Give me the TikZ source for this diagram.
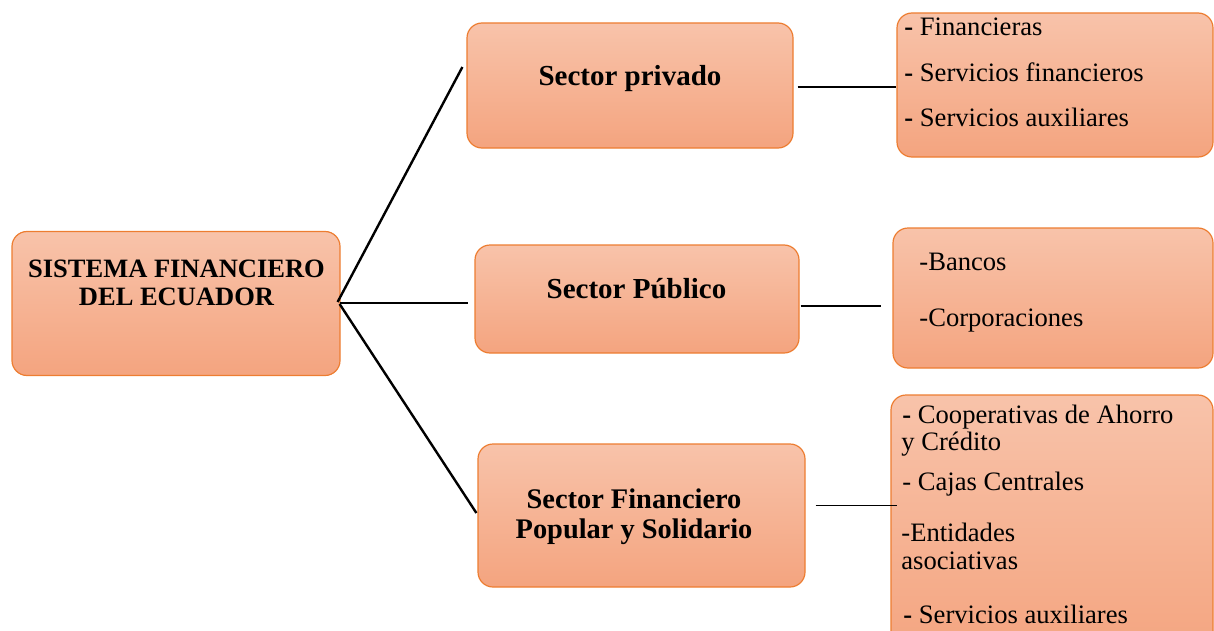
\documentclass[tikz,border=0pt]{standalone}
\usepackage{fontspec}
\setmainfont{Liberation Serif}

\definecolor{bordenaranja}{HTML}{ED7D31}
\definecolor{naranjaarriba}{HTML}{F8C3AA}
\definecolor{naranjaabajo}{HTML}{F4A47F}

\tikzset{
  caja/.style={draw=bordenaranja, line width=0.6pt, rounded corners=7.5pt,
    top color=naranjaarriba, bottom color=naranjaabajo, inner sep=0pt},
  titulo/.style={font=\bfseries\fontsize{14.5}{15.2}\selectfont, align=center, inner sep=0pt},
  item/.style={anchor=base west, inner sep=0pt, font=\fontsize{13.3}{14}\selectfont},
  linea/.style={line width=1.2pt, black}
}

\begin{document}
\begin{tikzpicture}[x=0.5pt, y=-0.5pt]
\clip (0,0) rectangle (1214,631);

% Caja principal
\node[caja, minimum width=164pt, minimum height=72pt] (sis) at (176,303.5) {};
\node[titulo, font=\bfseries\fontsize{13.25}{14}\selectfont] (sistxt) at (176.5,283)
  {SISTEMA FINANCIERO\\DEL ECUADOR};

% Sectores
\node[caja, minimum width=163pt, minimum height=62.5pt] (priv) at (630,85.5) {};
\node[titulo, anchor=base] (privtxt) at (630,86) {Sector privado};

\node[caja, minimum width=162pt, minimum height=54pt] (pub) at (637,299) {};
\node[titulo, anchor=base] (pubtxt) at (636.5,298.5) {Sector Público};

\node[caja, minimum width=163.5pt, minimum height=71.5pt] (pop) at (641.5,515.5) {};
\node[titulo, font=\bfseries\fontsize{14.2}{15.2}\selectfont] (poptxt) at (634,517)
  {Sector Financiero\\Popular y Solidario};

% Listas de la derecha
\node[caja, minimum width=158pt, minimum height=72pt] (r1) at (1055,85) {};
\node[item] (r1a) at (904,35.7) {\textbf{-} Financieras};
\node[item] (r1b) at (904,81.7) {\textbf{-} Servicios financieros};
\node[item] (r1c) at (904,126.7) {\textbf{-} Servicios auxiliares};

\node[caja, minimum width=160pt, minimum height=70pt] (r2) at (1053,298) {};
\node[item] (r2a) at (919,270.7) {-Bancos};
\node[item] (r2b) at (919,326.7) {-Corporaciones};

\node[caja, minimum width=161pt, minimum height=132.5pt] (r3) at (1052,527.5) {};
\node[item] (r3a) at (902,423) {\textbf{-} Cooperativas de Ahorro};
\node[item] (r3b) at (901,450) {y Crédito};
\node[item] (r3c) at (902,490) {- Cajas Centrales};
\node[item] (r3d) at (901,541.7) {-Entidades};
\node[item] (r3e) at (901,569) {asociativas};
\node[item] (r3f) at (903,623) {\textbf{-} Servicios auxiliares};

% Conectores
\draw[linea] ([shift={(-3,-1.5)}]sis.east) -- ([shift={(-4,-18.5)}]priv.west);
\draw[linea] ([shift={(-1,-0.5)}]sis.east) -- ([shift={(-6,4)}]pub.west);
\draw[linea] ([shift={(-1,0.5)}]sis.east) -- ([shift={(-1,-2.5)}]pop.west);

\draw[linea] ([shift={(4,1.5)}]priv.east) -- ([yshift=-1pt]r1.west);
\draw[linea] ([shift={(1,7)}]pub.east) -- ([shift={(-11,8)}]r2.west);
\draw[black, line width=0.5pt] ([shift={(10,-10.5)}]pop.east) -- ([shift={(7,-22.5)}]r3.west);
\end{tikzpicture}
\end{document}
